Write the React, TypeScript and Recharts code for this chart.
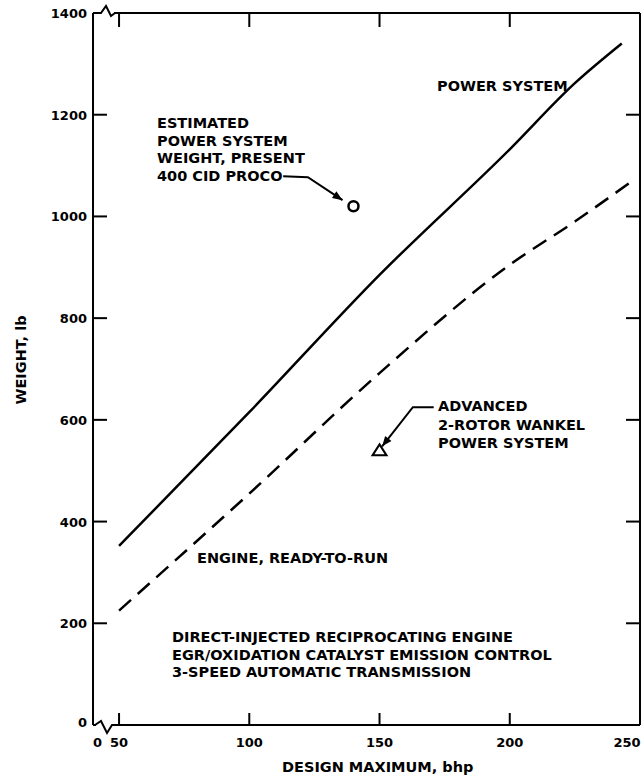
import { ComposedChart, Line, Scatter, XAxis, YAxis } from "recharts";

// power system weight vs design maximum bhp
const powerBhp = [50, 100, 150, 200, 225, 243];
const powerWeight = [352, 615, 885, 1132, 1262, 1340];

// engine, ready-to-run (dashed)
const engineBhp = [50, 100, 150, 200, 225, 246];
const engineWeight = [225, 455, 692, 905, 990, 1066];

// single points
const procoPoint = [{ bhp: 140, w: 1020 }];
const wankelPoint = [{ bhp: 150, w: 540 }];

// leader lines for the callouts
const procoLeader = [
  { bhp: 113, w: 1079 },
  { bhp: 122.5, w: 1077 },
  { bhp: 135.8, w: 1032 },
];
const wankelLeader = [
  { bhp: 170.8, w: 625 },
  { bhp: 162.8, w: 625 },
  { bhp: 151, w: 548 },
];

const xTicks = [40, 50, 100, 150, 200, 250];
const yTicks = [0, 200, 400, 600, 800, 1000, 1200, 1400];

const xDomain = [40, 250];
const yDomain = [0, 1400];

const powerData = powerBhp.map((b, i) => ({ bhp: b, w: powerWeight[i] }));
const engineData = engineBhp.map((b, i) => ({ bhp: b, w: engineWeight[i] }));

// inward tick marks on all four sides (drawn through the scales)
const innerY = yTicks.filter((v) => v > yDomain[0] && v < yDomain[1]);
const innerX = xTicks.filter((v) => v > xDomain[0] && v < xDomain[1]);
const leftMarks = innerY.map((v) => ({ bhp: xDomain[0], w: v }));
const rightMarks = innerY.map((v) => ({ bhp: xDomain[1], w: v }));
const topMarks = innerX.map((v) => ({ bhp: v, w: yDomain[1] }));
const bottomMarks = innerX.map((v) => ({ bhp: v, w: yDomain[0] }));

const W = 641;
const H = 784;
const M = { top: 12, right: 0, bottom: 29, left: 33 };
const LEFT_W = 60;
const BOTTOM_H = 30;
const plotW = W - M.left - M.right - LEFT_W - 1;
const plotH = H - M.top - M.bottom - BOTTOM_H - 1;

// arrowheads sit on the last point of each leader, rotated along the last segment
function arrowAt(pts: { bhp: number; w: number }[]) {
  const a = pts[pts.length - 2];
  const b = pts[pts.length - 1];
  const dx = ((b.bhp - a.bhp) * plotW) / (xDomain[1] - xDomain[0]);
  const dy = (-(b.w - a.w) * plotH) / (yDomain[1] - yDomain[0]);
  return [{ bhp: b.bhp, w: b.w, angle: (Math.atan2(dy, dx) * 180) / Math.PI }];
}
const procoArrow = arrowAt(procoLeader);
const wankelArrow = arrowAt(wankelLeader);

const font = "'DejaVu Sans', sans-serif";
const TICK = 14;

function LeftTick(props: any) {
  const x = Number(props.x);
  const y = Number(props.y);
  const v = props.payload.value;
  return (
    <text x={x - 6} y={y} dy={v === 0 ? 2 : 5} textAnchor="end" fontFamily={font} fontWeight="bold" fontSize={13} fill="#000">
      {v}
    </text>
  );
}

function BottomTick(props: any) {
  const x = Number(props.x);
  const y = Number(props.y);
  const v = props.payload.value;
  if (v === 40) {
    return (
      <g>
        <path d={`M${x + 3},${y} H${x + 21}`} stroke="#fff" strokeWidth={4} fill="none" />
        <path
          d={`M${x + 2},${y} L${x + 8},${y - 4} L${x + 14},${y + 8} L${x + 19},${y} L${x + 22},${y}`}
          fill="none"
          stroke="#000"
          strokeWidth={2}
        />
        <text x={x} y={y + 22} textAnchor="start" fontFamily={font} fontWeight="bold" fontSize={13} fill="#000">
          0
        </text>
      </g>
    );
  }
  return (
    <text x={v === 250 ? x - 2 : x} y={y + 22} textAnchor="middle" fontFamily={font} fontWeight="bold" fontSize={13} fill="#000">
      {v}
    </text>
  );
}

function TopTick(props: any) {
  const x = Number(props.x);
  const y = Number(props.y);
  const v = props.payload.value;
  if (v !== 40) return <g />;
  return (
    <g>
      <path d={`M${x + 5},${y} H${x + 21}`} stroke="#fff" strokeWidth={4} fill="none" />
      <path
        d={`M${x + 5},${y} L${x + 8},${y} L${x + 13},${y - 7} L${x + 18},${y + 3} L${x + 22},${y}`}
        fill="none"
        stroke="#000"
        strokeWidth={2}
      />
    </g>
  );
}

const NoTick = () => <g />;

const mark = (d: (x: number, y: number) => string) => (p: any) => (
  <path d={d(p.cx, p.cy)} stroke="#000" strokeWidth={2} fill="none" />
);
const LeftMark = mark((x, y) => `M${x},${y} h${TICK}`);
const RightMark = mark((x, y) => `M${x},${y} h${-TICK}`);
const TopMark = mark((x, y) => `M${x},${y} v${TICK}`);
const BottomMark = mark((x, y) => `M${x},${y} v-12`);

const axisLine = { stroke: "#000", strokeWidth: 2 };

const textStyle: React.CSSProperties = {
  position: "absolute",
  fontFamily: font,
  fontWeight: "bold",
  fontSize: 14.5,
  color: "#000",
  whiteSpace: "pre",
  lineHeight: "17.5px",
};

const ArrowHead = (p: any) => (
  <polygon
    points={`${p.cx},${p.cy} ${p.cx - 10},${p.cy - 4} ${p.cx - 10},${p.cy + 4}`}
    fill="#000"
    transform={`rotate(${p.payload.angle} ${p.cx} ${p.cy})`}
  />
);

export default function App() {
  return (
    <div style={{ position: "absolute", left: 0, top: 0, width: W, height: H, background: "#fff" }}>
      <ComposedChart width={W} height={H} margin={M}>
        <XAxis
          dataKey="bhp"
          type="number"
          domain={xDomain}
          ticks={xTicks}
          axisLine={axisLine}
          tickLine={false}
          tickSize={0}
          tickMargin={0}
          height={BOTTOM_H}
          tick={<BottomTick />}
        />
        <XAxis
          xAxisId="t"
          dataKey="bhp"
          type="number"
          orientation="top"
          domain={xDomain}
          ticks={xTicks}
          axisLine={axisLine}
          tickLine={false}
          tickSize={0}
          tickMargin={0}
          height={1}
          tick={<TopTick />}
        />
        <YAxis
          type="number"
          domain={yDomain}
          ticks={yTicks}
          axisLine={axisLine}
          tickLine={false}
          tickSize={0}
          tickMargin={0}
          width={LEFT_W}
          tick={<LeftTick />}
        />
        <YAxis
          yAxisId="r"
          orientation="right"
          type="number"
          domain={yDomain}
          ticks={yTicks}
          axisLine={axisLine}
          tickLine={false}
          tickSize={0}
          tickMargin={0}
          width={1}
          tick={<NoTick />}
        />
        {/* invisible series so the mirrored top/right axes have something bound to them */}
        <Line data={engineData} xAxisId="t" yAxisId="r" dataKey="w" stroke="none" dot={false} isAnimationActive={false} />
        <Scatter data={leftMarks} dataKey="w" isAnimationActive={false} shape={LeftMark} />
        <Scatter data={rightMarks} dataKey="w" isAnimationActive={false} shape={RightMark} />
        <Scatter data={topMarks} dataKey="w" isAnimationActive={false} shape={TopMark} />
        <Scatter data={bottomMarks} dataKey="w" isAnimationActive={false} shape={BottomMark} />
        <Line data={powerData} dataKey="w" type="monotone" stroke="#000" strokeWidth={2.5} dot={false} isAnimationActive={false} />
        <Line
          data={engineData}
          dataKey="w"
          type="monotone"
          stroke="#000"
          strokeWidth={2.5}
          strokeDasharray="16 9"
          dot={false}
          isAnimationActive={false}
        />
        <Line data={procoLeader} dataKey="w" type="linear" stroke="#000" strokeWidth={2} dot={false} isAnimationActive={false} />
        <Line data={wankelLeader} dataKey="w" type="linear" stroke="#000" strokeWidth={2} dot={false} isAnimationActive={false} />
        <Scatter data={procoArrow} dataKey="w" isAnimationActive={false} shape={ArrowHead} />
        <Scatter data={wankelArrow} dataKey="w" isAnimationActive={false} shape={ArrowHead} />
        <Scatter
          data={procoPoint}
          dataKey="w"
          isAnimationActive={false}
          shape={(p: any) => <circle cx={p.cx} cy={p.cy} r={5} fill="#fff" stroke="#000" strokeWidth={2.5} />}
        />
        <Scatter
          data={wankelPoint}
          dataKey="w"
          isAnimationActive={false}
          shape={(p: any) => (
            <polygon
              points={`${p.cx},${p.cy - 6} ${p.cx + 7},${p.cy + 5} ${p.cx - 7},${p.cy + 5}`}
              fill="#fff"
              stroke="#000"
              strokeWidth={2}
            />
          )}
        />
      </ComposedChart>

      <div style={{ ...textStyle, left: 437, top: 78 }}>POWER SYSTEM</div>
      <div style={{ ...textStyle, left: 157, top: 115 }}>
        {"ESTIMATED\nPOWER SYSTEM\nWEIGHT, PRESENT\n400 CID PROCO"}
      </div>
      <div style={{ ...textStyle, left: 438, top: 397, lineHeight: "18.5px" }}>
        {"ADVANCED\n2-ROTOR WANKEL\nPOWER SYSTEM"}
      </div>
      <div style={{ ...textStyle, left: 197, top: 550 }}>ENGINE, READY-TO-RUN</div>
      <div style={{ ...textStyle, left: 172, top: 629 }}>
        {"DIRECT-INJECTED RECIPROCATING ENGINE\nEGR/OXIDATION CATALYST EMISSION CONTROL\n3-SPEED AUTOMATIC TRANSMISSION"}
      </div>
      <div style={{ ...textStyle, left: 282, top: 759 }}>DESIGN MAXIMUM, bhp</div>
      <div
        style={{
          ...textStyle,
          left: 22,
          top: 360,
          transform: "translate(-50%, -50%) rotate(-90deg)",
        }}
      >
        WEIGHT, lb
      </div>
    </div>
  );
}
